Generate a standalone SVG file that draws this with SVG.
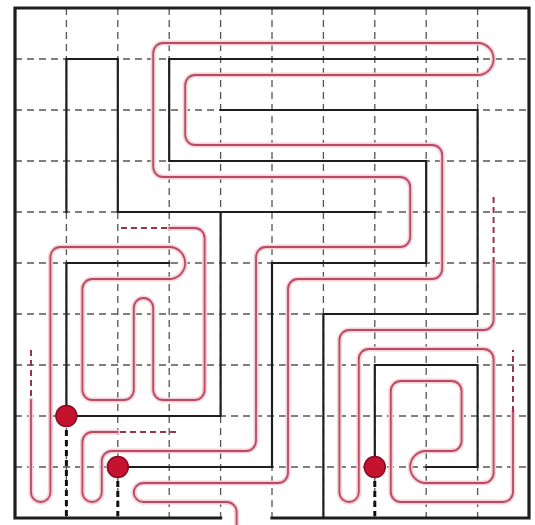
<svg xmlns="http://www.w3.org/2000/svg" width="535" height="525" viewBox="0 0 535 525">
<style>
.grid{stroke:#555;stroke-width:1.3;stroke-dasharray:7 5;fill:none}
.wall{stroke:#1e1e1e;stroke-width:2.2;fill:none;stroke-linecap:square}
.border{stroke:#1e1e1e;stroke-width:3.2;fill:none;stroke-linecap:square}
.tdash{stroke:#111;stroke-width:3;stroke-dasharray:6 4;fill:none}
.halo{stroke:#f5d0d8;stroke-width:5;fill:none;stroke-linecap:round;stroke-linejoin:round}
.red{stroke:#b94a60;stroke-width:1.8;fill:none;stroke-linecap:round;stroke-linejoin:round}
.rdash{stroke:#9a3447;stroke-width:2;stroke-dasharray:6 4;fill:none}
.dot{fill:#c4122f;stroke:#8a0c20;stroke-width:1.5}
</style>
<rect width="535" height="525" fill="#fff"/>
<g id="grid" class="grid">
<path d="M66.4,8V518M117.8,8V518M169.2,8V518M220.6,8V518M272,8V518M323.4,8V518M374.8,8V518M426.2,8V518M477.6,8V518"/>
<path d="M15,59H529M15,110H529M15,161H529M15,212H529M15,263H529M15,314H529M15,365H529M15,416H529M15,467H529"/>
</g>
<g id="paths">
<g id="path-1">
<path class="halo" d="M117.8,432 L92.4,432 A10,10 0 0 0 82.4,442 L82.4,492.3 A9.7,9.7 0 0 0 101.8,492.3 L101.8,461 A10,10 0 0 1 111.8,451 L246,451 A10,10 0 0 0 256,441 L256,257 A10,10 0 0 1 266,247 L400.2,247 A10,10 0 0 0 410.2,237 L410.2,187 A10,10 0 0 0 400.2,177 L163.2,177 A10,10 0 0 1 153.2,167 L153.2,53 A10,10 0 0 1 163.2,43 L477.6,43 A16,16 0 0 1 477.6,75 L195.2,75 A10,10 0 0 0 185.2,85 L185.2,135 A10,10 0 0 0 195.2,145 L432.2,145 A10,10 0 0 1 442.2,155 L442.2,269 A10,10 0 0 1 432.2,279 L298,279 A10,10 0 0 0 288,289 L288,473 A10,10 0 0 1 278,483 L143.3,483 A9.5,9.5 0 0 0 143.3,502 L226.6,502 A10,10 0 0 1 236.6,512 L236.6,527"/>
<path class="red" d="M117.8,432 L92.4,432 A10,10 0 0 0 82.4,442 L82.4,492.3 A9.7,9.7 0 0 0 101.8,492.3 L101.8,461 A10,10 0 0 1 111.8,451 L246,451 A10,10 0 0 0 256,441 L256,257 A10,10 0 0 1 266,247 L400.2,247 A10,10 0 0 0 410.2,237 L410.2,187 A10,10 0 0 0 400.2,177 L163.2,177 A10,10 0 0 1 153.2,167 L153.2,53 A10,10 0 0 1 163.2,43 L477.6,43 A16,16 0 0 1 477.6,75 L195.2,75 A10,10 0 0 0 185.2,85 L185.2,135 A10,10 0 0 0 195.2,145 L432.2,145 A10,10 0 0 1 442.2,155 L442.2,269 A10,10 0 0 1 432.2,279 L298,279 A10,10 0 0 0 288,289 L288,473 A10,10 0 0 1 278,483 L143.3,483 A9.5,9.5 0 0 0 143.3,502 L226.6,502 A10,10 0 0 1 236.6,512 L236.6,527"/>
<path class="rdash" d="M120,432 L180,432"/>
</g>
<g id="path-2">
<path class="halo" d="M31,400 L31,492.3 A9.7,9.7 0 0 0 50.4,492.3 L50.4,257 A10,10 0 0 1 60.4,247 L169.2,247 A16,16 0 0 1 169.2,279 L92.4,279 A10,10 0 0 0 82.4,289 L82.4,390 A10,10 0 0 0 92.4,400 L123.8,400 A10,10 0 0 0 133.8,390 L133.8,307.7 A9.7,9.7 0 0 1 153.2,307.7 L153.2,390 A10,10 0 0 0 163.2,400 L194.6,400 A10,10 0 0 0 204.6,390 L204.6,238 A10,10 0 0 0 194.6,228 L169.2,228"/>
<path class="red" d="M31,400 L31,492.3 A9.7,9.7 0 0 0 50.4,492.3 L50.4,257 A10,10 0 0 1 60.4,247 L169.2,247 A16,16 0 0 1 169.2,279 L92.4,279 A10,10 0 0 0 82.4,289 L82.4,390 A10,10 0 0 0 92.4,400 L123.8,400 A10,10 0 0 0 133.8,390 L133.8,307.7 A9.7,9.7 0 0 1 153.2,307.7 L153.2,390 A10,10 0 0 0 163.2,400 L194.6,400 A10,10 0 0 0 204.6,390 L204.6,238 A10,10 0 0 0 194.6,228 L169.2,228"/>
<path class="rdash" d="M31,350 L31,400 M167,228 L117.8,228"/>
</g>
<g id="path-3">
<path class="halo" d="M493.6,262 L493.6,320 A10,10 0 0 1 483.6,330 L349.4,330 A10,10 0 0 0 339.4,340 L339.4,492.3 A9.7,9.7 0 0 0 358.8,492.3 L358.8,359 A10,10 0 0 1 368.8,349 L483.6,349 A10,10 0 0 1 493.6,359 L493.6,473 A10,10 0 0 1 483.6,483 L426.2,483 A16,16 0 0 1 426.2,451 L451.6,451 A10,10 0 0 0 461.6,441 L461.6,391 A10,10 0 0 0 451.6,381 L400.8,381 A10,10 0 0 0 390.8,391 L390.8,492 A10,10 0 0 0 400.8,502 L503,502 A10,10 0 0 0 513,492 L513,412"/>
<path class="red" d="M493.6,262 L493.6,320 A10,10 0 0 1 483.6,330 L349.4,330 A10,10 0 0 0 339.4,340 L339.4,492.3 A9.7,9.7 0 0 0 358.8,492.3 L358.8,359 A10,10 0 0 1 368.8,349 L483.6,349 A10,10 0 0 1 493.6,359 L493.6,473 A10,10 0 0 1 483.6,483 L426.2,483 A16,16 0 0 1 426.2,451 L451.6,451 A10,10 0 0 0 461.6,441 L461.6,391 A10,10 0 0 0 451.6,381 L400.8,381 A10,10 0 0 0 390.8,391 L390.8,492 A10,10 0 0 0 400.8,502 L503,502 A10,10 0 0 0 513,492 L513,412"/>
<path class="rdash" d="M493.6,197 L493.6,262 M513,412 L513,350"/>
</g>
</g>
<g id="walls">
<path id="border" class="border" d="M220.6,518 H15 V8 H529 V518 H272"/>
<g id="wall-a" class="wall">
<path d="M66.4,212 V59 H117.8 V212 H374.8"/>
<path d="M220.6,212 V416 H66.4 V263 H169.2"/>
</g>
<g id="wall-b" class="wall">
<path d="M117.8,467 H272 V263 H426.2 V161 H169.2 V59 H477.6"/>
</g>
<g id="wall-c" class="wall">
<path d="M374.8,467 V365 H477.6 V467 H426.2"/>
</g>
<g id="wall-d" class="wall">
<path d="M323.4,518 V314 H477.6 V110 H220.6"/>
</g>
<path id="links" class="tdash" d="M66.4,420 V516 M117.8,471 V516 M374.8,471 V516"/>
</g>
<g id="dots">
<circle id="dot-1" class="dot" cx="66.4" cy="416" r="10.5"/>
<circle id="dot-2" class="dot" cx="117.8" cy="467" r="10.5"/>
<circle id="dot-3" class="dot" cx="374.8" cy="467" r="10.5"/>
</g>
</svg>
